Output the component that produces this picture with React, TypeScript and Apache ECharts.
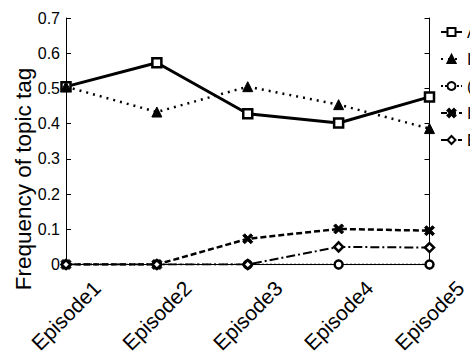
import React, { useEffect, useRef } from "react";
import * as echarts from "echarts";

const categories = ["Episode1", "Episode2", "Episode3", "Episode4", "Episode5"];
const seriesNames = ["Answer", "Idea", "(Other)", "Instruction", "Explanation"];
const seriesA = [0.505, 0.573, 0.428, 0.402, 0.476];
const seriesB = [0.505, 0.433, 0.505, 0.454, 0.386];
const seriesC = [0, 0, 0, 0, 0];
const seriesD = [0, 0, 0.073, 0.101, 0.096];
const seriesE = [0, 0, 0, 0.05, 0.048];
const yTicks = [0, 0.1, 0.2, 0.3, 0.4, 0.5, 0.6, 0.7];

const crossPath =
  "path://M2,0 L5,3 L8,0 L10,2 L7,5 L10,8 L8,10 L5,7 L2,10 L0,8 L3,5 L0,2 Z";

export default function App() {
  const ref = useRef<HTMLDivElement>(null);
  useEffect(() => {
    if (!ref.current) return;
    const chart = echarts.init(ref.current, undefined, { renderer: "svg" });
    const font = "Liberation Sans, Arial, sans-serif";
    const mk = (
      name: string,
      data: number[],
      symbol: string,
      lineType: any,
      width: number,
      filled: boolean,
      size: number
    ) => ({
      name,
      type: "line",
      data,
      symbol,
      symbolSize: size,
      showSymbol: true,
      lineStyle: { color: "#000", width, type: lineType },
      itemStyle: {
        color: filled ? "#000" : "#fff",
        borderColor: "#000",
        borderWidth: filled ? 1 : 2.5,
      },
      emphasis: { disabled: true },
    });
    chart.setOption({
      animation: false,
      grid: { left: 66, right: 34, top: 18, bottom: 88 },
      legend: {
        orient: "vertical",
        left: 440,
        top: 24,
        padding: 0,
        itemWidth: 21,
        itemHeight: 10,
        itemGap: 11,
        textStyle: { fontFamily: font, fontSize: 16, color: "#000" },
        data: seriesNames,
      },
      xAxis: [
        {
          type: "category",
          data: categories,
          boundaryGap: false,
          axisLine: { lineStyle: { color: "#000", width: 1 } },
          axisTick: { inside: true, length: 5, lineStyle: { color: "#000" } },
          axisLabel: {
            rotate: 45,
            align: "center",
            verticalAlign: "middle",
            margin: 51,
            fontFamily: font,
            fontSize: 21,
            color: "#000",
          },
          splitLine: { show: false },
        },
        {
          type: "category",
          data: categories,
          boundaryGap: false,
          position: "top",
          axisLine: { lineStyle: { color: "#000", width: 1 } },
          axisTick: { inside: true, length: 5, lineStyle: { color: "#000" } },
          axisLabel: { show: false },
          splitLine: { show: false },
        },
      ],
      yAxis: [
        {
          type: "value",
          min: 0,
          max: 0.7,
          interval: 0.1,
          axisLine: { show: true, lineStyle: { color: "#000", width: 1 } },
          axisTick: { show: true, inside: true, length: 5, lineStyle: { color: "#000" } },
          axisLabel: {
            fontFamily: font,
            fontSize: 16,
            color: "#000",
            margin: 6,
            formatter: (v: number) => {
              const t = yTicks.find((x) => Math.abs(x - v) < 1e-6);
              return t === 0 ? "0" : String(Math.round(v * 10) / 10);
            },
          },
          splitLine: { show: false },
        },
        {
          type: "value",
          min: 0,
          max: 0.7,
          interval: 0.1,
          position: "right",
          axisLine: { show: true, lineStyle: { color: "#000", width: 1 } },
          axisTick: { show: true, inside: true, length: 5, lineStyle: { color: "#000" } },
          axisLabel: { show: false },
          splitLine: { show: false },
        },
      ],
      graphic: [
        {
          type: "text",
          x: 23.5,
          y: 179,
          rotation: Math.PI / 2,
          style: {
            text: "Frequency of topic tag",
            fontFamily: font,
            fontSize: 22.5,
            fill: "#000",
            textAlign: "center",
            textVerticalAlign: "middle",
          },
        },
      ],
      series: [
        mk(seriesNames[0], seriesA, "rect", "solid", 3, false, 9),
        mk(seriesNames[1], seriesB, "triangle", [2, 5], 2.5, true, 10),
        mk(seriesNames[2], seriesC, "circle", [2, 2], 1.5, false, 8),
        mk(seriesNames[3], seriesD, crossPath, [6, 3], 2.5, true, 10),
        mk(seriesNames[4], seriesE, "diamond", [9, 3, 2, 3], 2, false, 9),
      ],
    });
    return () => chart.dispose();
  }, []);
  return (
    <div
      ref={ref}
      style={{ position: "fixed", left: 0, top: 0, width: 470, height: 356, background: "#fff" }}
    />
  );
}
